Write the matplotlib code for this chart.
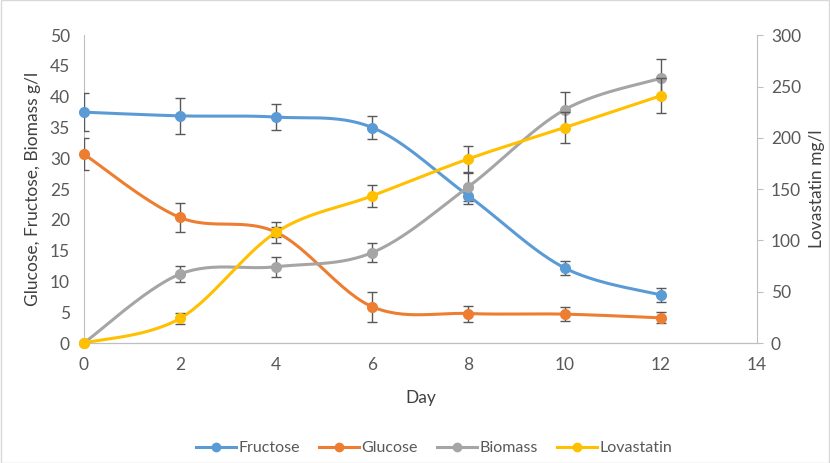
import numpy as np
import matplotlib.pyplot as plt
from matplotlib.patches import Rectangle

plt.rcParams['font.family'] = ['Lato', 'DejaVu Sans']

days = [0, 2, 4, 6, 8, 10, 12]
fructose = [37.5, 36.9, 36.7, 35.0, 23.9, 12.2, 7.8]
fructose_err = [3.1, 2.9, 2.1, 1.9, 1.3, 1.2, 1.1]
glucose = [30.7, 20.4, 18.0, 5.9, 4.8, 4.7, 4.1]
glucose_err = [2.6, 2.4, 1.7, 2.4, 1.3, 1.1, 0.9]
biomass = [0.0, 11.2, 12.4, 14.7, 25.4, 37.9, 43.0]
biomass_err = [0.0, 1.3, 1.6, 1.5, 2.3, 2.9, 3.1]
lovastatin = [0.0, 24, 108, 143.5, 179.5, 210, 241]
lovastatin_err = [0, 5, 5, 11, 13, 15, 17]

blue = '#5B9BD5'
orange = '#ED7D31'
grey = '#A5A5A5'
yellow = '#FFC000'
txt = '#595959'
fs = 12.5


def smooth(x, y, n=30):
    # Excel-like smoothed line (Catmull-Rom as cubic Bezier)
    x = np.asarray(x, float)
    y = np.asarray(y, float)
    px = np.concatenate([[x[0]], x, [x[-1]]])
    py = np.concatenate([[y[0]], y, [y[-1]]])
    xs, ys = [], []
    t = np.linspace(0, 1, n)
    for i in range(1, len(px) - 2):
        p0 = np.array([px[i], py[i]])
        p3 = np.array([px[i + 1], py[i + 1]])
        c1 = p0 + (p3 - np.array([px[i - 1], py[i - 1]])) / 6
        c2 = p3 - (np.array([px[i + 2], py[i + 2]]) - p0) / 6
        pts = ((1 - t) ** 3)[:, None] * p0 + (3 * (1 - t) ** 2 * t)[:, None] * c1 \
            + (3 * (1 - t) * t ** 2)[:, None] * c2 + (t ** 3)[:, None] * p3
        xs.append(pts[:, 0])
        ys.append(pts[:, 1])
    return np.concatenate(xs), np.concatenate(ys)


fig = plt.figure(figsize=(8.3, 4.63), dpi=100)
ax = fig.add_axes([0.101, 0.259, 0.811, 0.665])
ax2 = ax.twinx()

series = [(fructose, fructose_err, blue, 'Fructose'),
          (glucose, glucose_err, orange, 'Glucose'),
          (biomass, biomass_err, grey, 'Biomass')]
for vals, err, col, name in series:
    sx, sy = smooth(days, vals)
    ax.plot(sx, sy, color=col, lw=2.2, solid_capstyle='round', zorder=2, clip_on=False)
    ax.errorbar(days, vals, yerr=err, fmt='none', ecolor='#595959', elinewidth=1,
                capsize=3.5, capthick=1, zorder=3)
    ax.plot(days, vals, 'o', color=col, ms=7, zorder=4, clip_on=False)

sx, sy = smooth(days, lovastatin)
ax2.plot(sx, sy, color=yellow, lw=2.2, zorder=2, clip_on=False)
ax2.errorbar(days, lovastatin, yerr=lovastatin_err, fmt='none', ecolor='#595959',
             elinewidth=1, capsize=3.5, capthick=1, zorder=3)
ax2.plot(days, lovastatin, 'o', color=yellow, ms=7, zorder=4, clip_on=False)

ax.set_xlim(0, 14)
ax.set_ylim(0, 50)
ax2.set_ylim(0, 300)
ax.set_xticks(range(0, 15, 2))
ax.set_yticks(range(0, 51, 5))
ax2.set_yticks(range(0, 301, 50))

for a in (ax, ax2):
    for s in a.spines.values():
        s.set_color('#BFBFBF')
    a.spines['top'].set_visible(False)
ax2.spines['left'].set_visible(False)
ax.spines['right'].set_visible(False)
ax.tick_params(axis='y', length=0, labelsize=fs, labelcolor=txt, pad=10)
ax.tick_params(axis='x', length=0, labelsize=fs, labelcolor=txt, pad=10)
ax2.tick_params(axis='y', length=4, color='#BFBFBF', labelsize=fs, labelcolor=txt, pad=6)

ax.set_xlabel('Day', fontsize=fs, color='#404040', labelpad=12)
ax.set_ylabel('Glucose, Fructose, Biomass g/l', fontsize=fs, color='#404040', labelpad=6)
ax2.set_ylabel('Lovastatin mg/l', fontsize=fs, color='#404040', labelpad=6)

lh = [plt.Line2D([], [], color=c, lw=2.2, marker='o', ms=6) for c in (blue, orange, grey, yellow)]
fig.legend(lh, ['Fructose', 'Glucose', 'Biomass', 'Lovastatin'], loc='center',
           bbox_to_anchor=(0.523, 0.032), ncol=4, frameon=False, fontsize=11.5,
           labelcolor=txt, handlelength=2.5, handletextpad=0.15, columnspacing=1.2)

fig.patches.append(Rectangle((0.001, 0.001), 0.998, 0.998, transform=fig.transFigure,
                             fill=False, edgecolor='#D9D9D9', lw=1))

fig.savefig('out.png', dpi=100)
